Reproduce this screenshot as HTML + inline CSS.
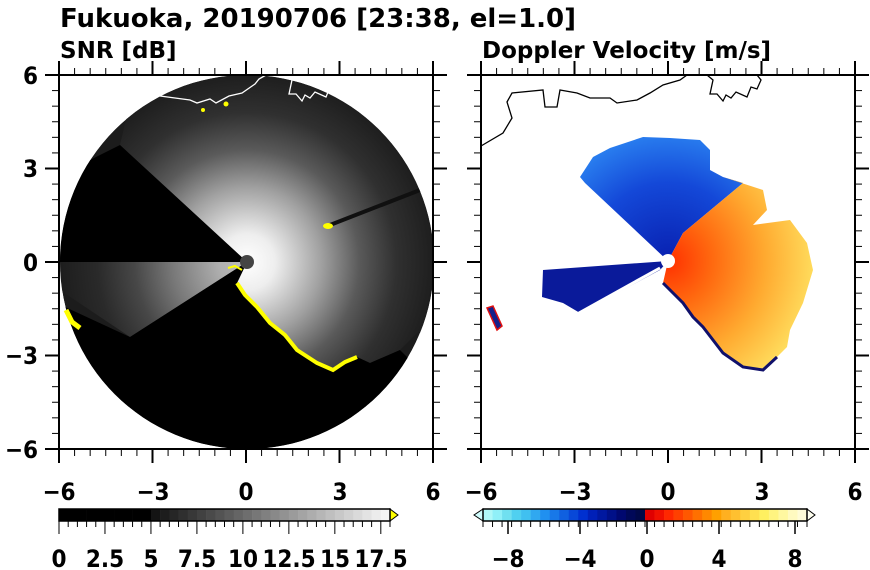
<!DOCTYPE html>
<html><head><meta charset="utf-8"><style>
html,body{margin:0;padding:0;background:#fff;}
svg{display:block;font-family:"DejaVu Sans","Liberation Sans",sans-serif;font-weight:bold;}
.n{font-family:"DejaVu Sans Condensed","DejaVu Sans","Liberation Sans Narrow",sans-serif;font-stretch:condensed;}
</style></head><body>
<svg id="s" width="870" height="570" viewBox="0 0 870 570" xmlns="http://www.w3.org/2000/svg">
<defs>
<radialGradient id="bright" cx="247" cy="262" r="187" gradientUnits="userSpaceOnUse">
<stop offset="0" stop-color="#ffffff"/>
<stop offset="0.15" stop-color="#eeeeee"/>
<stop offset="0.4" stop-color="#a0a0a0"/>
<stop offset="0.6" stop-color="#5a5a5a"/>
<stop offset="0.8" stop-color="#303030"/>
<stop offset="1" stop-color="#1e1e1e"/>
</radialGradient>
<radialGradient id="orng" cx="668" cy="261" r="150" gradientUnits="userSpaceOnUse">
<stop offset="0" stop-color="#ff3000"/>
<stop offset="0.3" stop-color="#ff6a10"/>
<stop offset="0.65" stop-color="#ffaa30"/>
<stop offset="1" stop-color="#ffe060"/>
</radialGradient>
<radialGradient id="blu" cx="668" cy="261" r="130" gradientUnits="userSpaceOnUse">
<stop offset="0" stop-color="#0820b0"/>
<stop offset="0.6" stop-color="#1448d8"/>
<stop offset="1" stop-color="#2a80f0"/>
</radialGradient>
<clipPath id="cc"><circle cx="247" cy="262" r="187"/></clipPath>
</defs>
<text x="60" y="27" font-size="26">Fukuoka, 20190706 [23:38, el=1.0]</text>
<text x="60" y="58" font-size="23">SNR [dB]</text>
<text x="482" y="58" font-size="23">Doppler Velocity [m/s]</text>

<!-- SNR panel -->
<g clip-path="url(#cc)">
<circle cx="247" cy="262" r="187" fill="#1c1c1c"/>
<polygon points="247,262 120,145 140,60 440,60 440,330 417,333 400,350 370,363 357,357 333,370 317,363 297,350 270,323 257,307 237,283" fill="url(#bright)"/>
<polygon points="247,262 60,262 60,290 130,337" fill="url(#bright)" opacity="0.7"/>
<polygon points="247,262 120,145 50,180 50,262" fill="#000"/>
<polygon points="247,262 237,283 257,307 270,323 297,350 317,363 333,370 357,357 370,363 400,350 440,390 440,460 50,460 50,300 130,337" fill="#000"/>
<line x1="330" y1="225" x2="420" y2="190" stroke="#101010" stroke-width="4"/>
</g>
<polyline points="237,283 245,295 257,307 270,323 285,335 297,350 317,363 333,370 345,362 357,357" fill="none" stroke="#ffff00" stroke-width="4"/>
<polyline points="66,310 72,322 80,328" fill="none" stroke="#ffff00" stroke-width="5"/>
<ellipse cx="328" cy="226" rx="5" ry="3" fill="#ffff00"/>
<circle cx="226" cy="104" r="2.5" fill="#ffff00"/><circle cx="203" cy="110" r="2" fill="#ffff00"/>
<circle cx="247" cy="262" r="7" fill="#444"/>
<polyline points="242,270 235,266 228,268" fill="none" stroke="#ffff00" stroke-width="2"/>
<g fill="none" stroke="#fff" stroke-width="1.3">
<polyline points="160,96 175,98 190,100 197,103 210,99 216,103 229,96 242,93 255,84 259,79 266,75"/>
<polyline points="286,75 292,80 289,94 296,94 302,101 305,95 310,98 315,92 326,97 330,87 336,89 340,80"/>
</g>
<!-- Doppler panel -->
<polygon points="668,261 585,183 580,177 593,157 610,148 643,137 670,138 700,140 710,150 710,170 723,177 743,183 683,233" fill="url(#blu)"/>
<polygon points="668,261 683,233 743,183 723,177 763,190 767,210 753,225 790,220 807,243 813,270 803,303 790,330 787,347 777,357 763,370 743,367 723,353 703,327 693,317 683,303 663,283" fill="url(#orng)"/>
<polyline points="663,283 683,303 693,317 703,327 723,353 743,367 763,370 777,357" fill="none" stroke="#10106a" stroke-width="3"/>
<polygon points="668,261 543,270 542,297 563,303 580,313 660,270" fill="#0a1a9a"/>
<line x1="660" y1="268" x2="570" y2="318" stroke="#fff" stroke-width="3"/>
<polygon points="487,308 493,306 502,326 497,330" fill="#14208a" stroke="#e01010" stroke-width="1.5"/>
<circle cx="668" cy="261" r="7" fill="#fff"/>
<g fill="none" stroke="#000" stroke-width="1.3">
<polyline points="481,146 503,133 512,118 507,102 512,93 543,90 545,107 557,107 560,90 577,93 590,98 610,98 617,103 637,100 650,93 663,85 680,80 687,75"/>
<polyline points="707,75 713,80 710,94 717,94 723,101 726,95 731,98 736,92 747,97 751,87 757,89 761,80 757,75"/>
</g>
<g id="axes" stroke="#000" fill="none"></g>
<g class="n" font-size="24" text-anchor="end">
<text x="38" y="84">6</text><text x="38" y="177">3</text><text x="38" y="271">0</text><text x="38" y="364">−3</text><text x="38" y="458">−6</text>
</g>
<g class="n" font-size="24" text-anchor="middle">
<text x="59" y="500">−6</text><text x="153" y="500">−3</text><text x="246" y="500">0</text><text x="340" y="500">3</text><text x="433" y="500">6</text>
<text x="481" y="500">−6</text><text x="575" y="500">−3</text><text x="668" y="500">0</text><text x="762" y="500">3</text><text x="855" y="500">6</text>
</g>
<g id="cb"></g>
<g class="n" font-size="24" text-anchor="middle">
<text x="59" y="567">0</text><text x="105" y="567">2.5</text><text x="151" y="567">5</text><text x="197" y="567">7.5</text><text x="243" y="567">10</text><text x="289" y="567">12.5</text><text x="335" y="567">15</text><text x="381" y="567">17.5</text>
<text x="508" y="567">−8</text><text x="580" y="567">−4</text><text x="647" y="567">0</text><text x="719" y="567">4</text><text x="795" y="567">8</text>
</g>
</svg>
<script>
var NS="http://www.w3.org/2000/svg";
function el(p,t,a){var e=document.createElementNS(NS,t);for(var k in a)e.setAttribute(k,a[k]);p.appendChild(e);return e;}
var ax=document.getElementById("axes");
[[59],[481]].forEach(function(o){
 var x0=o[0],x1=x0+374,y0=75,y1=449,s=374/24;
 el(ax,"rect",{x:x0,y:y0,width:374,height:374,"stroke-width":2});
 for(var i=0;i<=24;i++){
  var L=(i%6==0)?14:7,x=x0+i*s,y=y0+i*s;
  el(ax,"line",{x1:x,y1:y0,x2:x,y2:y0-L,"stroke-width":(i%6==0)?2:1});
  el(ax,"line",{x1:x,y1:y1,x2:x,y2:y1+L,"stroke-width":(i%6==0)?2:1});
  el(ax,"line",{x1:x0,y1:y,x2:x0-L,y2:y,"stroke-width":(i%6==0)?2:1});
  el(ax,"line",{x1:x1,y1:y,x2:x1+L,y2:y,"stroke-width":(i%6==0)?2:1});
 }
});
var cb=document.getElementById("cb");
var n=36,w=(390-59)/n;
for(var i=0;i<n;i++){var v=i<10?0:Math.round(20+(i-10)/(n-11)*225);
 el(cb,"rect",{x:59+i*w,y:509,width:w+0.3,height:12,fill:"rgb("+v+","+v+","+v+")"});}
el(cb,"polygon",{points:"390,509 398,515 390,521",fill:"#ffff00",stroke:"#000","stroke-width":1});
el(cb,"rect",{x:59,y:509,width:331,height:12,fill:"none",stroke:"#000","stroke-width":1.5});
for(var i=0;i<=n;i++){el(cb,"line",{x1:59+i*w,y1:521,x2:59+i*w,y2:i%5==0?534:527,stroke:"#000","stroke-width":1});}
var cols=["#b0f8f8","#90f0f8","#70e0f0","#50d0f0","#40c0f0","#30a8f0","#2090f0","#1878e8","#1060e0","#0848d8","#0030d0","#0020b8","#0018a0","#001088","#000870","#000858","#000848",
"#e00000","#f01000","#ff2800","#ff4000","#ff5800","#ff7000","#ff8800","#ffa000","#ffb020","#ffc030","#ffd040","#ffe050","#fff060","#fff480","#fff8a0","#fffac0","#fffcd8"];
var x0=483,x1=807,m=cols.length,w2=(x1-x0)/m;
for(var i=0;i<m;i++)el(cb,"rect",{x:x0+i*w2,y:509,width:w2+0.3,height:12,fill:cols[i]});
el(cb,"polygon",{points:"483,509 474,515 483,521",fill:"#d0fcfc",stroke:"#000","stroke-width":1});
el(cb,"polygon",{points:"807,509 815,515 807,521",fill:"#fffff0",stroke:"#000","stroke-width":1});
el(cb,"rect",{x:x0,y:509,width:x1-x0,height:12,fill:"none",stroke:"#000","stroke-width":1.5});
for(var i=0;i<=m;i++){el(cb,"line",{x1:x0+i*w2,y1:521,x2:x0+i*w2,y2:527,stroke:"#000","stroke-width":1});}
[508,580,647,719,795].forEach(function(x){el(cb,"line",{x1:x,y1:521,x2:x,y2:534,stroke:"#000","stroke-width":1.5});});
</script>
</body></html>
